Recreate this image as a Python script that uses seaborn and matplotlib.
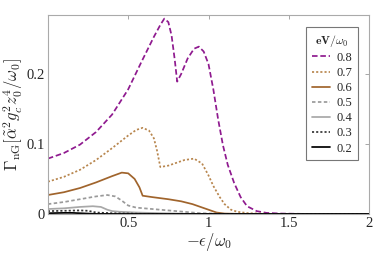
import pandas as pd
import seaborn as sns
from matplotlib import pyplot as plt

sns.set_theme(style="white")
plt.rcParams["font.family"] = ["Liberation Serif", "DejaVu Serif"]
plt.rcParams["mathtext.fontset"] = "cm"

# values, x = -eps/omega0
x_08 = [0, 0.1, 0.2, 0.3, 0.4, 0.5, 0.58, 0.66, 0.7, 0.725, 0.75, 0.77, 0.79, 0.805,
        0.83, 0.87, 0.91, 0.94, 0.97, 1.0, 1.03, 1.06, 1.09, 1.12, 1.16, 1.2, 1.24,
        1.3, 1.36, 1.45, 1.6, 2.0]
y_08 = [0.079, 0.087, 0.099, 0.117, 0.142, 0.178, 0.216, 0.253, 0.27, 0.279, 0.274,
        0.255, 0.22, 0.189, 0.2, 0.222, 0.236, 0.239, 0.232, 0.214, 0.178, 0.135,
        0.098, 0.07, 0.044, 0.024, 0.011, 0.004, 0.0015, 0.0005, 0, 0]

x_07 = [0, 0.1, 0.2, 0.3, 0.4, 0.5, 0.55, 0.59, 0.63, 0.66, 0.68, 0.70, 0.75, 0.8,
        0.85, 0.91, 0.96, 1.0, 1.03, 1.07, 1.1, 1.14, 1.18, 1.25, 1.4, 2.0]
y_07 = [0.046, 0.053, 0.063, 0.077, 0.094, 0.112, 0.12, 0.123, 0.119, 0.108, 0.09,
        0.067, 0.069, 0.073, 0.077, 0.079, 0.072, 0.055, 0.04, 0.024, 0.014, 0.006,
        0.003, 0.001, 0, 0]

x_06 = [0, 0.1, 0.2, 0.3, 0.4, 0.46, 0.5, 0.54, 0.57, 0.59, 0.65, 0.75, 0.83, 0.9,
        0.95, 1.0, 1.05, 1.1, 1.2, 2.0]
y_06 = [0.027, 0.031, 0.037, 0.045, 0.054, 0.059, 0.058, 0.05, 0.038, 0.026, 0.024,
        0.021, 0.018, 0.014, 0.01, 0.006, 0.002, 0.0005, 0, 0]

x_05 = [0, 0.1, 0.2, 0.3, 0.37, 0.42, 0.46, 0.5, 0.55, 0.65, 0.75, 0.85, 0.95, 1.1, 2.0]
y_05 = [0.014, 0.017, 0.021, 0.025, 0.027, 0.025, 0.019, 0.012, 0.009, 0.007, 0.005,
        0.003, 0.001, 0, 0]

x_04 = [0, 0.1, 0.2, 0.28, 0.33, 0.37, 0.4, 0.45, 0.55, 0.7, 0.9, 2.0]
y_04 = [0.007, 0.008, 0.01, 0.011, 0.01, 0.006, 0.004, 0.003, 0.002, 0.001, 0, 0]

x_03 = [0, 0.1, 0.2, 0.25, 0.3, 0.4, 0.6, 2.0]
y_03 = [0.004, 0.0045, 0.005, 0.0045, 0.002, 0.001, 0, 0]

x_02 = [0, 0.1, 0.15, 0.2, 0.3, 2.0]
y_02 = [0.001, 0.0015, 0.0015, 0.001, 0, 0]

labels = ["0.8", "0.7", "0.6", "0.5", "0.4", "0.3", "0.2"]
xs = [x_08, x_07, x_06, x_05, x_04, x_03, x_02]
ys = [y_08, y_07, y_06, y_05, y_04, y_03, y_02]

df = pd.concat(
    [pd.DataFrame({"x": x, "y": y, "eV": lab}) for x, y, lab in zip(xs, ys, labels)],
    ignore_index=True,
)

palette = {
    "0.8": "#8f1a8f",
    "0.7": "#b8864e",
    "0.6": "#a0642c",
    "0.5": "#9a9a9a",
    "0.4": "#a8a8a8",
    "0.3": "#333333",
    "0.2": "#000000",
}
dashes = {
    "0.8": (3.2, 1.6),
    "0.7": (1.2, 1.2),
    "0.6": "",
    "0.5": (2.0, 1.4),
    "0.4": "",
    "0.3": (1.2, 1.2),
    "0.2": "",
}

fig = plt.figure(figsize=(3.74, 2.8), dpi=100)
ax = fig.add_axes([0.128, 0.236, 0.859, 0.71])

sns.lineplot(
    data=df, x="x", y="y", hue="eV", style="eV", hue_order=labels, style_order=labels,
    palette=palette, dashes=dashes, ax=ax, linewidth=1.25, estimator=None, sort=False,
)

ax.set_xlim(0, 2)
ax.set_ylim(0, 0.284)
ax.set_xticks([0.5, 1, 1.5, 2])
ax.set_xticklabels(["0.5", "1", "1.5", "2"])
ax.set_yticks([0, 0.1, 0.2])
ax.set_yticklabels(["0", "0.1", "0.2"])
ax.tick_params(direction="in", length=3, width=0.6, color="#999999",
               top=True, right=True, labelsize=10.5, pad=2)
for s in ax.spines.values():
    s.set_color("#aaaaaa")
    s.set_linewidth(0.8)

ax.set_xlabel(r"$-\epsilon/\omega_0$", fontsize=12, labelpad=1)
ax.set_ylabel(r"$\Gamma_{\rm nG}[\tilde{\alpha}^2 g_c^2 z_0^4/\omega_0]$", fontsize=12, labelpad=1)

leg = ax.legend(
    title=r"$\mathbf{eV}/\omega_0$", loc="upper right", bbox_to_anchor=(0.966, 0.94),
    borderaxespad=0, fontsize=9, title_fontsize=8.5, frameon=True, fancybox=False,
    handlelength=1.5, handletextpad=0.5, labelspacing=0.25, borderpad=0.45,
)
leg.get_frame().set_edgecolor("#555555")
leg.get_frame().set_linewidth(0.8)

fig.savefig("out.png", dpi=100)
